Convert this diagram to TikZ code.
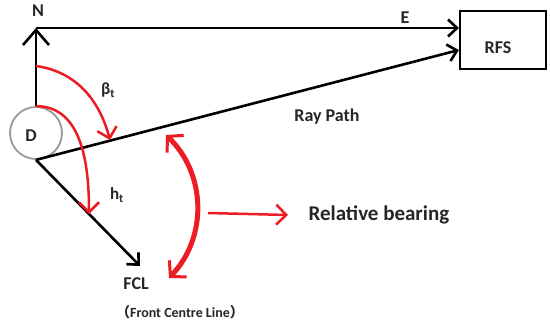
\documentclass[tikz,border=0pt]{standalone}
\usepackage{fontspec}
\setmainfont{Carlito}
\newfontfamily\cjk{Noto Sans CJK SC}
\usetikzlibrary{arrows.meta}
\definecolor{rd}{RGB}{236,28,36}
\begin{document}
\begin{tikzpicture}[x=1pt,y=1pt,
  blk/.style={line width=2.6pt,black},
  blkarrow/.style={blk,-{Straight Barb[length=9pt,width=17pt,line width=2.6pt]}},
  bigarrow/.style={blk,-{Straight Barb[length=15pt,width=26pt,line width=2.6pt]}},
  redarrow/.style={line width=2.5pt,rd,-{Straight Barb[length=10pt,width=20pt,line width=2.5pt]}},
  thickred/.style={line width=5pt,rd,{Straight Barb[length=11pt,width=24pt,line width=3pt]}-{Straight Barb[length=11pt,width=24pt,line width=3pt]}},
  lab/.style={font=\fontsize{18}{20}\selectfont\bfseries,text=black!85,inner sep=1pt}
]
\useasboundingbox (0,0) rectangle (550,325);
% nodes
\node[circle,draw=gray!80,line width=1.8pt,minimum size=52pt,inner sep=0pt] (D) at (36,192) {};
\node[lab] (Dl) at (31,189) {D};
\node[draw,line width=2.2pt,minimum width=86pt,minimum height=58pt,inner sep=0pt] (RFS) at (503,285) {};
\node[lab] (RFSl) at (498,277) {RFS};
\coordinate (Ntip) at (36,297);
\coordinate (FCLtip) at (140,59);
\coordinate (rayend) at ([yshift=-10pt]RFS.west);
\node[lab] (N) at (38,314) {N};
\node[lab] (E) at (405,307) {E};
\node[lab] (ray) at (327,208) {Ray Path};
\node[lab] (FCL) at (136,41) {FCL};
\node[font=\fontsize{14}{16}\selectfont\bfseries,text=black!85] (fcl2) at (180,13) {{\cjk （}Front Centre Line{\cjk ）}};
\node[font=\fontsize{21}{23}\selectfont\bfseries,text=black!85,anchor=west] (rb) at (305,110) {Relative bearing};
\node[lab,font=\fontsize{17}{19}\selectfont\bfseries] (beta) at (108,235) {β\textsubscript{t}};
\node[lab,font=\fontsize{17}{19}\selectfont\bfseries] (h) at (117,130) {h\textsubscript{t}};
% black lines
\draw[bigarrow] (D.north) -- (Ntip);
\draw[blkarrow] (Ntip) -- (RFS.west |- Ntip);
\draw[blkarrow] (D.south) -- (rayend);
\draw[blkarrow] (D.south) -- (FCLtip);
% red arcs
\coordinate (b0) at (36,259);
\coordinate (b1) at (110,185);
\draw[redarrow] (b0) to[out=-8,in=105] (b1);
\coordinate (h1) at (89,111);
\draw[redarrow] (D.north) to[out=0,in=90] (h1);
\coordinate (r0) at (166,190);
\coordinate (r1) at (169,47);
\draw[thickred] (r0) to[bend left=45] (r1);
\coordinate (a0) at (208,112);
\draw[redarrow] (a0) -- (rb.west -| 288,0);
\end{tikzpicture}
\end{document}
